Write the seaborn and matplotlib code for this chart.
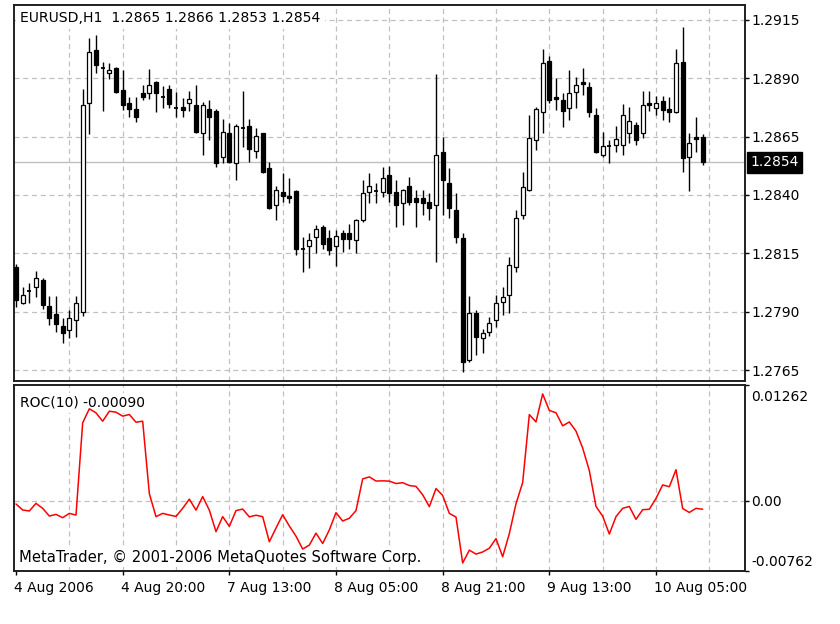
import matplotlib
matplotlib.use("Agg")
import matplotlib.pyplot as plt
import matplotlib.transforms as mtransforms
import numpy as np
import pandas as pd
import seaborn as sns

# ---------------- data ----------------
symbol = "EURUSD,H1"

opens = [1.28093, 1.27939, 1.27990, 1.28007, 1.28036, 1.27924, 1.27889, 1.27839, 1.27821, 1.27864,
         1.27900, 1.28793, 1.29021, 1.28943, 1.28921, 1.28943, 1.28850, 1.28796, 1.28767, 1.28836,
         1.28836, 1.28886, 1.28821, 1.28853, 1.28771, 1.28776, 1.28793, 1.28786, 1.28664, 1.28767,
         1.28761, 1.28561, 1.28664, 1.28536, 1.28686, 1.28696, 1.28590, 1.28664, 1.28514, 1.28357,
         1.28414, 1.28396, 1.28419, 1.28167, 1.28181, 1.28221, 1.28264, 1.28214, 1.28181, 1.28239,
         1.28239, 1.28207, 1.28293, 1.28414, 1.28419, 1.28414, 1.28486, 1.28414, 1.28364, 1.28439,
         1.28386, 1.28386, 1.28371, 1.28357, 1.28586, 1.28450, 1.28336, 1.28214, 1.27693, 1.27893,
         1.27786, 1.27814, 1.27864, 1.27943, 1.27971, 1.28093, 1.28314, 1.28421, 1.28636, 1.28757,
         1.28976, 1.28821, 1.28807, 1.28771, 1.28843, 1.28886, 1.28864, 1.28743, 1.28571, 1.28610,
         1.28614, 1.28614, 1.28667, 1.28700, 1.28664, 1.28793, 1.28771, 1.28804, 1.28767, 1.28757,
         1.28971, 1.28564, 1.28647, 1.28650]
highs = [1.28104, 1.28007, 1.28021, 1.28076, 1.28043, 1.27967, 1.27967, 1.27871, 1.27907, 1.27967,
         1.28853, 1.29071, 1.29086, 1.28971, 1.28967, 1.28950, 1.28936, 1.28821, 1.28821, 1.28871,
         1.28939, 1.28890, 1.28867, 1.28871, 1.28843, 1.28814, 1.28847, 1.28871, 1.28800, 1.28807,
         1.28767, 1.28724, 1.28707, 1.28704, 1.28847, 1.28724, 1.28686, 1.28667, 1.28543, 1.28439,
         1.28493, 1.28471, 1.28421, 1.28221, 1.28236, 1.28271, 1.28271, 1.28250, 1.28250, 1.28250,
         1.28276, 1.28296, 1.28464, 1.28496, 1.28450, 1.28521, 1.28524, 1.28464, 1.28424, 1.28476,
         1.28421, 1.28421, 1.28407, 1.28919, 1.28647, 1.28514, 1.28407, 1.28236, 1.27967, 1.27907,
         1.27824, 1.27876, 1.27971, 1.28007, 1.28136, 1.28336, 1.28500, 1.28743, 1.28776, 1.29024,
         1.28996, 1.28900, 1.28836, 1.28936, 1.28907, 1.28943, 1.28886, 1.28771, 1.28671, 1.28636,
         1.28696, 1.28790, 1.28776, 1.28714, 1.28847, 1.28847, 1.28824, 1.28824, 1.28821, 1.29024,
         1.29119, 1.28664, 1.28736, 1.28660]
lows = [1.27921, 1.27933, 1.27936, 1.27964, 1.27910, 1.27843, 1.27814, 1.27764, 1.27786, 1.27793,
        1.27881, 1.28660, 1.28921, 1.28761, 1.28896, 1.28839, 1.28764, 1.28736, 1.28714, 1.28807,
        1.28810, 1.28757, 1.28771, 1.28771, 1.28736, 1.28736, 1.28761, 1.28667, 1.28571, 1.28636,
        1.28521, 1.28536, 1.28536, 1.28464, 1.28607, 1.28543, 1.28557, 1.28496, 1.28339, 1.28293,
        1.28371, 1.28364, 1.28143, 1.28071, 1.28086, 1.28153, 1.28167, 1.28143, 1.28096, 1.28157,
        1.28167, 1.28153, 1.28286, 1.28364, 1.28364, 1.28393, 1.28371, 1.28264, 1.28271, 1.28357,
        1.28264, 1.28314, 1.28293, 1.28114, 1.28314, 1.28300, 1.28193, 1.27643, 1.27686, 1.27714,
        1.27721, 1.27796, 1.27836, 1.27886, 1.27893, 1.28071, 1.28296, 1.28419, 1.28593, 1.28664,
        1.28793, 1.28764, 1.28690, 1.28721, 1.28771, 1.28829, 1.28736, 1.28579, 1.28564, 1.28536,
        1.28586, 1.28571, 1.28621, 1.28614, 1.28643, 1.28761, 1.28743, 1.28721, 1.28714, 1.28753,
        1.28500, 1.28419, 1.28586, 1.28530]
closes = [1.27950, 1.27971, 1.27990, 1.28043, 1.27929, 1.27874, 1.27846, 1.27810, 1.27871, 1.27936,
          1.28786, 1.29014, 1.28957, 1.28943, 1.28936, 1.28843, 1.28786, 1.28767, 1.28736, 1.28819,
          1.28871, 1.28839, 1.28821, 1.28790, 1.28771, 1.28764, 1.28810, 1.28671, 1.28786, 1.28736,
          1.28539, 1.28671, 1.28543, 1.28696, 1.28686, 1.28596, 1.28653, 1.28500, 1.28343, 1.28421,
          1.28396, 1.28386, 1.28167, 1.28167, 1.28207, 1.28253, 1.28190, 1.28164, 1.28224, 1.28210,
          1.28210, 1.28293, 1.28410, 1.28439, 1.28419, 1.28471, 1.28410, 1.28357, 1.28421, 1.28371,
          1.28371, 1.28364, 1.28343, 1.28571, 1.28464, 1.28343, 1.28221, 1.27686, 1.27893, 1.27793,
          1.27810, 1.27850, 1.27936, 1.27964, 1.28100, 1.28300, 1.28436, 1.28643, 1.28767, 1.28967,
          1.28807, 1.28810, 1.28761, 1.28836, 1.28871, 1.28876, 1.28757, 1.28586, 1.28610, 1.28610,
          1.28639, 1.28743, 1.28717, 1.28636, 1.28786, 1.28786, 1.28793, 1.28764, 1.28757, 1.28967,
          1.28557, 1.28624, 1.28639, 1.28540]

roc_period = 10
roc = [-0.00033, -0.00098, -0.00109, -0.00026, -0.00080, -0.00164, -0.00146, -0.00182, -0.00135, -0.00153,
       0.00850, 0.01003, 0.00959, 0.00868, 0.00977, 0.00966, 0.00923, 0.00941, 0.00857, 0.00868,
       0.00080, -0.00171, -0.00135, -0.00153, -0.00168, -0.00080, 0.00020, -0.00100, 0.00048, -0.00100,
       -0.00334, -0.00170, -0.00276, -0.00105, -0.00088, -0.00173, -0.00155, -0.00171, -0.00444, -0.00295,
       -0.00150, -0.00272, -0.00383, -0.00523, -0.00480, -0.00350, -0.00463, -0.00315, -0.00127, -0.00218,
       -0.00188, -0.00105, 0.00240, 0.00262, 0.00217, 0.00219, 0.00216, 0.00190, 0.00199, 0.00168,
       0.00159, 0.00068, -0.00062, 0.00135, 0.00060, -0.00135, -0.00175, -0.00675, -0.00535, -0.00578,
       -0.00555, -0.00514, -0.00410, -0.00607, -0.00355, -0.00030, 0.00200, 0.00940, 0.00860, 0.01165,
       0.00985, 0.00960, 0.00818, 0.00860, 0.00760, 0.00576, 0.00330, -0.00060, -0.00165, -0.00360,
       -0.00170, -0.00080, -0.00060, -0.00200, -0.00095, -0.00090, 0.00028, 0.00175, 0.00155, 0.00340,
       -0.00082, -0.00125, -0.00080, -0.00090]

time_labels = ["4 Aug 2006", "4 Aug 20:00", "7 Aug 13:00", "8 Aug 05:00",
               "8 Aug 21:00", "9 Aug 13:00", "10 Aug 05:00"]
time_label_bars = [0, 16, 32, 48, 64, 80, 96]

price_ticks = [1.2765, 1.2790, 1.2815, 1.2840, 1.2865, 1.2890, 1.2915]
roc_ticks = [-0.00762, 0.0, 0.01262]
roc_tick_labels = ["-0.00762", "0.00", "0.01262"]
last_price = 1.2854
copyright_text = "MetaTrader, \u00a9 2001-2006 MetaQuotes Software Corp."

# ---------------- figure ----------------
sns.set_style("white")
plt.rcParams["font.family"] = ["DejaVu Sans"]

W, H = 840, 624
fig = plt.figure(figsize=(W / 100, H / 100), dpi=100)
fig.patch.set_facecolor("white")


def px_rect(l, t, r, b):
    return [l / W, 1 - b / H, (r - l) / W, (b - t) / H]


ax = fig.add_axes(px_rect(14, 5, 745, 381))
ax2 = fig.add_axes(px_rect(14, 385, 745, 571), sharex=ax)

df = pd.DataFrame({"bar": np.arange(len(closes)), "open": opens, "high": highs,
                   "low": lows, "close": closes, "roc": roc})

grid_kw = dict(color="#c0c0c0", lw=0.9, linestyle=(0, (4, 3)), zorder=0.5)
for p in price_ticks:
    ax.axhline(p, **grid_kw)
for b in range(8, 105, 8):
    ax.axvline(b, **grid_kw)
    ax2.axvline(b, **grid_kw)
ax2.axhline(0.0, **grid_kw)

# current price line
ax.axhline(last_price, color="#c0c0c0", lw=1.0, zorder=1)

# candles
up = df.close > df.open
down = df.close < df.open
flat = df.close == df.open
body_w = 0.62
ax.vlines(df.bar, df.low, df.high, color="black", lw=1.0, zorder=3)
ax.bar(df.bar[up], (df.close - df.open)[up], bottom=df.open[up], width=body_w,
       facecolor="white", edgecolor="black", linewidth=0.9, zorder=4)
ax.bar(df.bar[down], (df.open - df.close)[down], bottom=df.close[down], width=body_w,
       facecolor="black", edgecolor="black", linewidth=0.9, zorder=4)
ax.hlines(df.open[flat], df.bar[flat] - body_w / 2, df.bar[flat] + body_w / 2,
          color="black", lw=1.3, zorder=4)

# ROC line
sns.lineplot(data=df, x="bar", y="roc", ax=ax2, color="#ff0000", lw=1.1, zorder=3)
ax2.set_xlabel("")
ax2.set_ylabel("")

# limits
ax.set_xlim(-0.3, 109.35)
ax.set_ylim(1.27603, 1.29214)
ax2.set_ylim(roc_ticks[0], roc_ticks[-1])

# spines
for a in (ax, ax2):
    for s in a.spines.values():
        s.set_visible(True)
        s.set_color("#202020")
        s.set_linewidth(1.4)

# price axis
ax.yaxis.tick_right()
ax.set_yticks(price_ticks)
ax.set_yticklabels([f"{p:.4f}" for p in price_ticks])
ax.tick_params(axis="y", which="both", right=True, left=False, direction="out",
               length=3, width=1, pad=1.5, labelsize=10, colors="black")
ax.tick_params(axis="x", which="both", bottom=False, labelbottom=False)

# roc axis
ax2.yaxis.tick_right()
ax2.set_yticks(roc_ticks)
ax2.set_yticklabels(roc_tick_labels)
ax2.tick_params(axis="y", which="both", right=True, left=False, direction="out",
                length=3, width=1, pad=1.5, labelsize=10, colors="black")
ylabs = ax2.get_yticklabels()
ylabs[0].set_verticalalignment("bottom")
ylabs[-1].set_verticalalignment("top")
ylabs[0].set_transform(ylabs[0].get_transform()
                       + mtransforms.ScaledTranslation(0, 0.02, fig.dpi_scale_trans))
ylabs[-1].set_transform(ylabs[-1].get_transform()
                        + mtransforms.ScaledTranslation(0, -0.05, fig.dpi_scale_trans))

ax2.set_xticks(time_label_bars)
ax2.set_xticklabels(time_labels, ha="left")
ax2.tick_params(axis="x", which="both", bottom=True, direction="out", length=3,
                width=1, pad=4, labelsize=10, colors="black")
for lab in ax2.get_xticklabels():
    lab.set_transform(lab.get_transform()
                      + mtransforms.ScaledTranslation(-0.02, 0, fig.dpi_scale_trans))

# texts
header = f"{symbol}  {opens[-1]:.4f} {highs[-1]:.4f} {lows[-1]:.4f} {closes[-1]:.4f}"
ax.text((20 - 14) / 731, (381 - 18) / 376, header, transform=ax.transAxes,
        ha="left", va="center", fontsize=10.1, color="black", zorder=2,
        bbox=dict(facecolor="white", edgecolor="none", pad=3))
ax2.text((20 - 14) / 731, (571 - 403) / 186, f"ROC({roc_period}) {roc[-1]:.5f}",
         transform=ax2.transAxes, ha="left", va="center", fontsize=10, color="black",
         zorder=2, bbox=dict(facecolor="white", edgecolor="none", pad=2))
ax2.text((19 - 14) / 731, (571 - 557) / 186, copyright_text,
         transform=ax2.transAxes, ha="left", va="center", fontsize=10.6, color="black",
         zorder=2, bbox=dict(facecolor="white", edgecolor="none", pad=2))

ax.annotate(f"{last_price:.4f}", xy=(1, last_price), xycoords=("axes fraction", "data"),
            xytext=(3.6, 0), textcoords="offset points", ha="left", va="center",
            color="white", fontsize=10, annotation_clip=False, zorder=10,
            bbox=dict(boxstyle="square,pad=0.25", fc="black", ec="black"))

fig.savefig("out.png", dpi=100, facecolor="white")
